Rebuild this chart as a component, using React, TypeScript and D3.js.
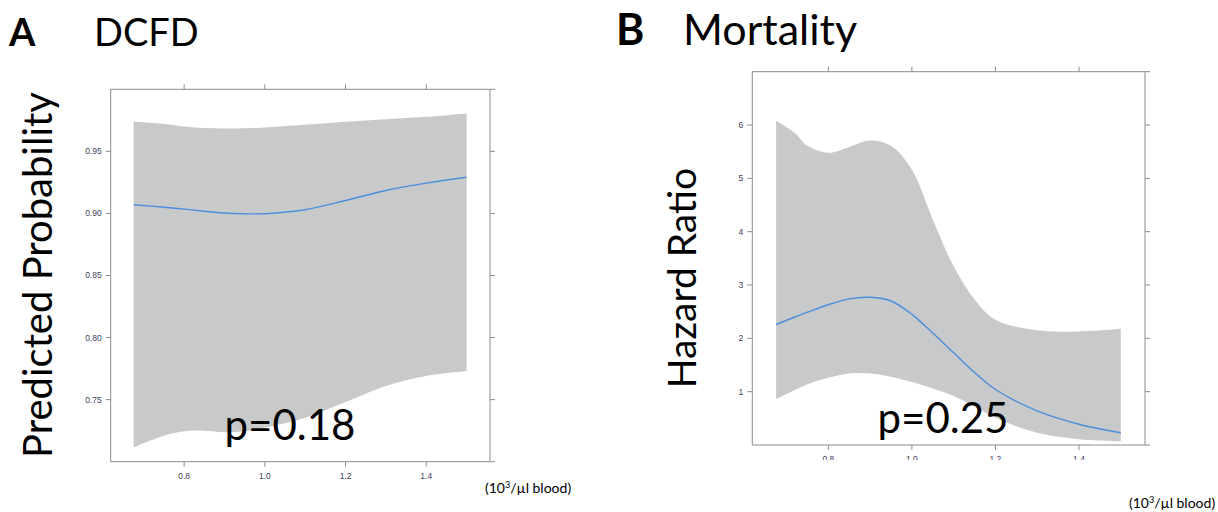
import * as d3 from "d3";
import React, { useEffect, useRef } from "react";

// panel A: DCFD, predicted probability
const dcfdX = [0.675, 0.75, 0.8, 0.85, 0.9, 0.95, 1.0, 1.1, 1.2, 1.3, 1.4, 1.5];
const dcfdUpper = [0.974, 0.972, 0.970, 0.9688, 0.9685, 0.9687, 0.9693, 0.9715, 0.9738, 0.9758, 0.9778, 0.9806];
const dcfdFit = [0.907, 0.905, 0.9035, 0.9018, 0.9003, 0.8997, 0.8998, 0.903, 0.9104, 0.9185, 0.9244, 0.9292];
const dcfdLower = [0.7117, 0.721, 0.7245, 0.725, 0.7237, 0.7245, 0.7275, 0.7355, 0.748, 0.761, 0.769, 0.773];
const dcfdYTicks = [0.75, 0.8, 0.85, 0.9, 0.95];

// panel B: mortality, hazard ratio
const mortX = [0.675, 0.72, 0.75, 0.8, 0.85, 0.9, 0.95, 1.0, 1.05, 1.1, 1.15, 1.2, 1.3, 1.4, 1.5];
const mortUpper = [6.08, 5.85, 5.61, 5.48, 5.59, 5.71, 5.61, 5.16, 4.23, 3.35, 2.73, 2.35, 2.15, 2.13, 2.18];
const mortFit = [2.26, 2.4, 2.49, 2.63, 2.74, 2.77, 2.7, 2.45, 2.1, 1.73, 1.36, 1.04, 0.64, 0.39, 0.23];
const mortLower = [0.86, 1.03, 1.14, 1.26, 1.34, 1.34, 1.28, 1.18, 1.06, 0.92, 0.72, 0.51, 0.23, 0.11, 0.07];
const mortYTicks = [1, 2, 3, 4, 5, 6];

const xTicks = [0.8, 1.0, 1.2, 1.4];

const panels = [
  {
    letter: "A", title: "DCFD", ylabel: "Predicted Probability", p: "p=0.18",
    xs: dcfdX, upper: dcfdUpper, fit: dcfdFit, lower: dcfdLower,
    yTicks: dcfdYTicks, yDomain: [0.7, 1.0], yFmt: d3.format(".2f"),
    box: { left: 110.7, right: 490, top: 89.3, bottom: 461.7 },
    letterX: 9, titleX: 94, titleSize: 38, titleY: 46,
    ylabelX: 52, ylabelY: 275, ylabelSize: 40,
    pX: 290, pY: 440, unitX: 485, unitY: 493, clipLabels: false,
  },
  {
    letter: "B", title: "Mortality", ylabel: "Hazard Ratio", p: "p=0.25",
    xs: mortX, upper: mortUpper, fit: mortFit, lower: mortLower,
    yTicks: mortYTicks, yDomain: [0, 7], yFmt: d3.format("d"),
    box: { left: 752.3, right: 1145, top: 71.7, bottom: 445 },
    letterX: 616, titleX: 683, titleSize: 43, titleY: 45,
    ylabelX: 696, ylabelY: 278, ylabelSize: 39,
    pX: 943, pY: 433, unitX: 1129, unitY: 508, clipLabels: true,
  },
];

const App = () => {
  const node = useRef(null);
  useEffect(() => {
    const svg = d3.select(node.current);
    svg.selectAll("*").remove();
    const frameColor = "#8c8c8c";
    const tickText = "#3d3d5c";
    const curve = d3.curveCatmullRom.alpha(0.5);

    panels.forEach((pn, i) => {
      const b = pn.box;
      const x = d3.scaleLinear().domain([0.618, 1.558]).range([b.left, b.right]);
      const y = d3.scaleLinear().domain(pn.yDomain).range([b.bottom, b.top]);
      const g = svg.append("g");

      // header
      g.append("text")
        .attr("x", pn.letterX).attr("y", pn.titleY)
        .attr("font-family", "Lato, 'Open Sans', sans-serif")
        .attr("font-weight", "bold").attr("font-size", pn.titleSize)
        .text(pn.letter);
      g.append("text")
        .attr("x", pn.titleX).attr("y", pn.titleY)
        .attr("font-family", "Lato, 'Open Sans', sans-serif")
        .attr("font-size", pn.titleSize)
        .text(pn.title);

      // confidence band
      const pts = pn.xs.map((v, k) => ({ x: v, lo: pn.lower[k], hi: pn.upper[k], fit: pn.fit[k] }));
      g.append("path")
        .datum(pts)
        .attr("fill", "#c8c9cb")
        .attr("d", d3.area().curve(curve)
          .x((d) => x(d.x)).y0((d) => y(d.lo)).y1((d) => y(d.hi)));
      g.append("path")
        .datum(pts)
        .attr("fill", "none")
        .attr("stroke", "#4a8fdc")
        .attr("stroke-width", 1.4)
        .attr("d", d3.line().curve(curve)
          .x((d) => x(d.x)).y((d) => y(d.fit)));

      // frame
      const fr = g.append("g").attr("stroke", frameColor).attr("stroke-width", 1).attr("fill", "none");
      fr.append("line").attr("x1", b.left).attr("x2", b.right + 5).attr("y1", b.top).attr("y2", b.top);
      fr.append("line").attr("x1", b.left).attr("x2", b.right + 5).attr("y1", b.bottom).attr("y2", b.bottom);
      fr.append("line").attr("x1", b.left).attr("x2", b.left).attr("y1", b.top).attr("y2", b.bottom);
      fr.append("line").attr("x1", b.right).attr("x2", b.right).attr("y1", b.top).attr("y2", b.bottom);

      // ticks on all four sides
      xTicks.forEach((t) => {
        fr.append("line").attr("x1", x(t)).attr("x2", x(t)).attr("y1", b.top).attr("y2", b.top - 5);
        fr.append("line").attr("x1", x(t)).attr("x2", x(t)).attr("y1", b.bottom).attr("y2", b.bottom + 5);
      });
      pn.yTicks.forEach((t) => {
        fr.append("line").attr("x1", b.left - 5).attr("x2", b.left).attr("y1", y(t)).attr("y2", y(t));
        fr.append("line").attr("x1", b.right).attr("x2", b.right + 5).attr("y1", y(t)).attr("y2", y(t));
      });

      // tick labels
      g.append("g")
        .selectAll("text")
        .data(pn.yTicks)
        .join("text")
        .attr("x", b.left - 9)
        .attr("y", (d) => y(d))
        .attr("dy", "0.35em")
        .attr("text-anchor", "end")
        .attr("font-family", "'Liberation Sans', Arial, sans-serif")
        .attr("font-size", 8.5)
        .attr("fill", tickText)
        .text((d) => pn.yFmt(d));

      const clipId = `clipx${i}`;
      if (pn.clipLabels) {
        svg.append("clipPath").attr("id", clipId)
          .append("rect").attr("x", b.left).attr("y", b.bottom).attr("width", b.right - b.left).attr("height", 15);
      }
      const xl = g.append("g");
      if (pn.clipLabels) xl.attr("clip-path", `url(#${clipId})`);
      xl.selectAll("text")
        .data(xTicks)
        .join("text")
        .attr("x", (d) => x(d))
        .attr("y", b.bottom + 14.5)
        .attr("dy", "0.35em")
        .attr("text-anchor", "middle")
        .attr("font-family", "'Liberation Sans', Arial, sans-serif")
        .attr("font-size", 8.5)
        .attr("fill", tickText)
        .text((d) => d3.format(".1f")(d));

      // y axis title
      g.append("text")
        .attr("transform", `translate(${pn.ylabelX},${pn.ylabelY}) rotate(-90)`)
        .attr("text-anchor", "middle")
        .attr("font-family", "Lato, 'Open Sans', sans-serif")
        .attr("font-size", pn.ylabelSize)
        .text(pn.ylabel);

      // p value
      g.append("text")
        .attr("x", pn.pX).attr("y", pn.pY)
        .attr("text-anchor", "middle")
        .attr("font-family", "Lato, 'Open Sans', sans-serif")
        .attr("font-size", 42)
        .text(pn.p);

      // unit
      const u = g.append("text")
        .attr("x", pn.unitX).attr("y", pn.unitY)
        .attr("font-family", "Lato, 'Open Sans', sans-serif")
        .attr("font-size", 14);
      u.append("tspan").text("(10");
      u.append("tspan").attr("font-size", 9).attr("dy", -5).text("3");
      u.append("tspan").attr("dy", 5).text("/µl blood)");
    });
  }, []);

  return (
    <svg
      ref={node}
      width={1218}
      height={512}
      style={{ position: "absolute", left: 0, top: 0, display: "block", background: "#fff" }}
    />
  );
};

export default App;
